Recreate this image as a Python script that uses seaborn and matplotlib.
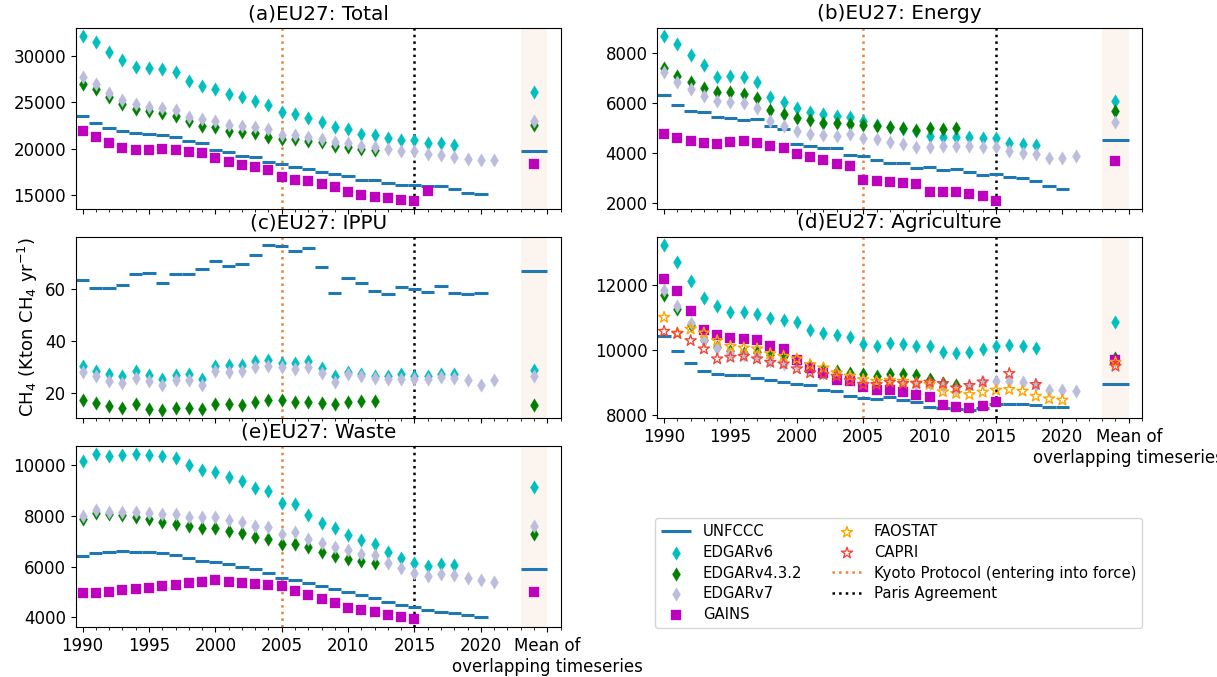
import matplotlib
matplotlib.use("Agg")
import numpy as np
import matplotlib.pyplot as plt
import seaborn as sns
from matplotlib.ticker import MultipleLocator

sns.set_theme(style="ticks", rc={
    "axes.linewidth": 0.8,
    "axes.edgecolor": "black",
    "xtick.major.size": 3.5,
    "ytick.major.size": 3.5,
    "xtick.minor.size": 2,
    "xtick.major.width": 0.8,
    "ytick.major.width": 0.8,
    "xtick.minor.width": 0.6,
    "xtick.labelsize": 12,
    "ytick.labelsize": 12,
    "axes.titlesize": 14.4,
    "axes.labelsize": 13,
    "legend.fontsize": 10.7,
    "xtick.color": "black",
    "ytick.color": "black",
    "text.color": "black",
    "axes.labelcolor": "black",
})
plt.rcParams["font.family"] = ["DejaVu Sans"]

# ---------------- data (kton CH4 / yr) ----------------
yrs_unfccc = np.arange(1990, 2021)
yrs_edgar6 = np.arange(1990, 2019)
yrs_edgar432 = np.arange(1990, 2013)
yrs_edgar7 = np.arange(1990, 2022)
yrs_gains = np.arange(1990, 2016)
yrs_gains_total = np.arange(1990, 2017)
yrs_faostat = np.arange(1990, 2021)
yrs_capri = [1990, 1991, 1992, 1993, 1994, 1995, 1996, 1997, 1998, 1999, 2000,
             2001, 2002, 2003, 2004, 2005, 2006, 2007, 2008, 2009, 2010, 2011,
             2012, 2013, 2014, 2016, 2018]

tick_labels = ["1990", "1995", "2000", "2005", "2010", "2015", "2020",
               "Mean of\noverlapping timeseries"]

# (a) Total
total_unfccc = [23570, 22750, 22250, 21960, 21710, 21610, 21460, 21320, 20890, 20610,
                19930, 19640, 19290, 19180, 18570, 18390, 18040, 17860, 17500, 17250,
                17040, 16680, 16610, 16360, 16070, 16140, 15960, 16000, 15680, 15290, 15180]
total_edgar6 = [32140, 31500, 30430, 29530, 28860, 28750, 28570, 28290, 27250, 26790,
                26430, 25890, 25540, 25110, 24750, 23930, 23750, 23290, 22860, 22390,
                22140, 21610, 21500, 21180, 20960, 20960, 20610, 20610, 20430]
total_edgar432 = [26960, 26430, 25540, 24820, 24290, 24110, 23820, 23570, 22960, 22500,
                  22320, 21960, 21860, 21680, 21320, 21070, 21070, 20890, 20710, 20360,
                  20180, 20000, 19890]
total_edgar7 = [27680, 26960, 26000, 25290, 24820, 24530, 24390, 24210, 23390, 23210,
                22960, 22610, 22500, 22320, 22140, 21500, 21540, 21320, 21070, 20710,
                20610, 20360, 20250, 20000, 19820, 19750, 19460, 19390, 19180, 18930,
                18820, 18820]
total_gains = [21890, 21320, 20640, 20070, 19890, 19890, 20000, 19930, 19710, 19570,
               19000, 18570, 18320, 18040, 17680, 16960, 16710, 16540, 16250, 15890,
               15360, 15070, 14820, 14710, 14540, 14390, 15430]
total_means = {"UNFCCC": 19750, "EDGARv6": 26140, "EDGARv4.3.2": 22610,
               "EDGARv7": 23040, "GAINS": 18390}

# (b) Energy
energy_unfccc = [6330, 5920, 5690, 5630, 5430, 5390, 5320, 5360, 5060, 4970, 4370, 4280,
                 4200, 4200, 3940, 3900, 3740, 3610, 3610, 3420, 3450, 3320, 3350, 3250,
                 3120, 3150, 3030, 3020, 2900, 2700, 2590]
energy_edgar6 = [8660, 8330, 7910, 7500, 7040, 7080, 7040, 6840, 6220, 6020, 5790, 5650,
                 5540, 5460, 5430, 5260, 5100, 5030, 4940, 4860, 4700, 4660, 4660, 4640,
                 4600, 4600, 4400, 4370, 4310]
energy_edgar432 = [7370, 7080, 6840, 6590, 6420, 6420, 6350, 6190, 5720, 5540, 5390, 5300,
                   5190, 5190, 5170, 5100, 5070, 5030, 4990, 4900, 4990, 4970, 5010]
energy_edgar7 = [7210, 6840, 6550, 6290, 6090, 6050, 5980, 5800, 5270, 5060, 4860, 4770,
                 4730, 4700, 4740, 4610, 4570, 4440, 4370, 4240, 4240, 4270, 4280, 4280,
                 4240, 4240, 4070, 4000, 3950, 3820, 3820, 3870]
energy_gains = [4770, 4600, 4480, 4410, 4350, 4440, 4470, 4400, 4280, 4220, 3950, 3850,
                3710, 3580, 3480, 2920, 2900, 2860, 2820, 2770, 2460, 2460, 2440, 2360,
                2290, 2090]
energy_means = {"UNFCCC": 4530, "EDGARv6": 6090, "EDGARv4.3.2": 5690,
                "EDGARv7": 5230, "GAINS": 3680}

# (c) IPPU
ippu_unfccc = [63.8, 60.6, 60.4, 61.7, 66.1, 66.5, 62.5, 65.9, 65.9, 67.9, 70.8, 69.0,
               69.9, 73.3, 77.1, 76.6, 74.9, 76.1, 68.7, 58.7, 64.3, 62.3, 59.5, 58.2,
               60.9, 60.0, 59.2, 61.2, 58.7, 58.2, 58.5]
ippu_edgar6 = [30.7, 28.5, 27.5, 26.6, 28.8, 26.9, 25.6, 26.9, 27.5, 25.7, 30.7, 30.8,
               30.8, 32.4, 32.7, 31.7, 31.7, 32.6, 29.8, 26.6, 28.2, 27.3, 26.6, 26.6,
               27.5, 26.6, 26.6, 27.6, 27.6]
ippu_edgar432 = [17.5, 16.2, 15.2, 14.3, 15.8, 13.9, 13.6, 14.5, 14.5, 13.9, 15.8, 15.8,
                 15.4, 16.7, 17.5, 17.3, 16.7, 16.8, 16.4, 15.8, 16.7, 17.1, 17.1]
ippu_edgar7 = [28.2, 26.6, 24.7, 24.1, 26.0, 24.7, 23.4, 25.0, 25.0, 23.4, 28.5, 28.2,
               28.5, 30.1, 30.4, 30.1, 29.4, 30.1, 27.9, 24.3, 27.5, 26.6, 26.0, 25.6,
               25.6, 25.6, 25.6, 26.4, 26.0, 25.0, 23.4, 25.1]
ippu_means = {"UNFCCC": 67.0, "EDGARv6": 28.9, "EDGARv4.3.2": 15.5, "EDGARv7": 26.6}

# (d) Agriculture
agri_unfccc = [10440, 9980, 9600, 9350, 9265, 9225, 9245, 9140, 9090, 9020, 8970, 8910,
               8785, 8735, 8580, 8510, 8480, 8550, 8450, 8410, 8245, 8205, 8175, 8155,
               8205, 8355, 8355, 8355, 8325, 8245, 8245]
agri_edgar6 = [13220, 12690, 12120, 11590, 11335, 11150, 11150, 11100, 10980, 10930,
               10850, 10600, 10520, 10450, 10400, 10180, 10130, 10210, 10190, 10130,
               10110, 9930, 9910, 9930, 10030, 10110, 10160, 10130, 10060]
agri_edgar432 = [11690, 11250, 10770, 10315, 10090, 9980, 9910, 9930, 9830, 9805, 9650,
                 9500, 9420, 9345, 9295, 9265, 9215, 9265, 9275, 9225, 9120, 8990, 8920]
agri_edgar7 = [11845, 11335, 10825, 10315, 10060, 9905, 9855, 9805, 9675, 9580, 9570,
               9400, 9295, 9225, 9140, 9040, 8990, 9040, 8990, 8970, 8970, 8890, 8815,
               8890, 9010, 9040, 9040, 9010, 8920, 8785, 8785, 8735]
agri_gains = [12180, 11795, 11180, 10620, 10470, 10365, 10335, 10295, 10110, 10030, 9700,
              9450, 9295, 9090, 9040, 8865, 8765, 8785, 8705, 8610, 8550, 8325, 8255,
              8205, 8275, 8400]
agri_faostat = [11000, 10520, 10640, 10520, 10285, 10110, 10060, 10030, 9885, 9805, 9725,
                9550, 9450, 9295, 9195, 9090, 9040, 9070, 9040, 8990, 8940, 8715, 8665,
                8630, 8705, 8765, 8785, 8735, 8580, 8500, 8460]
agri_capri = [10570, 10500, 10285, 10030, 9725, 9775, 9805, 9725, 9620, 9570, 9420, 9295,
              9245, 9195, 9060, 8940, 8940, 9010, 8970, 8970, 9010, 8970, 8835, 8910,
              9020, 9275, 8940]
agri_means = {"UNFCCC": 8940, "EDGARv6": 10855, "EDGARv4.3.2": 9755, "EDGARv7": 9650,
              "GAINS": 9700, "FAOSTAT": 9620, "CAPRI": 9500}

# (e) Waste
waste_unfccc = [6425, 6530, 6595, 6620, 6595, 6580, 6530, 6450, 6330, 6225, 6190, 6120,
                6005, 5900, 5740, 5570, 5465, 5350, 5220, 5140, 5010, 4880, 4760, 4615,
                4485, 4395, 4290, 4225, 4170, 4090, 4025]
waste_edgar6 = [10155, 10445, 10380, 10395, 10445, 10420, 10355, 10290, 10000, 9830, 9725,
                9540, 9370, 9110, 8980, 8520, 8455, 8035, 7705, 7535, 7235, 7050, 6880,
                6580, 6360, 6135, 6030, 6095, 6070]
waste_edgar432 = [7865, 8125, 8060, 8035, 7955, 7865, 7775, 7695, 7605, 7535, 7535, 7405,
                  7340, 7185, 7080, 6880, 6880, 6775, 6580, 6425, 6320, 6225, 6160]
waste_edgar7 = [7995, 8230, 8165, 8165, 8165, 8100, 8060, 8060, 7955, 7955, 7955, 7840,
                7760, 7605, 7575, 7275, 7380, 7105, 6920, 6790, 6660, 6515, 6450, 6160,
                5940, 5740, 5640, 5705, 5675, 5570, 5465, 5415]
waste_gains = [4955, 4980, 5020, 5075, 5115, 5155, 5220, 5285, 5350, 5400, 5480, 5415,
               5375, 5310, 5270, 5220, 5050, 4890, 4720, 4550, 4365, 4290, 4195, 4105,
               4025, 3935]
waste_means = {"UNFCCC": 5925, "EDGARv6": 9135, "EDGARv4.3.2": 7275,
               "EDGARv7": 7605, "GAINS": 5020}

# marker styles per dataset (explicit hex, seaborn remaps the single-letter codes)
STYLE = {
    "EDGARv6": dict(marker="d", color="#00bfbf", s=48),
    "EDGARv4.3.2": dict(marker="d", color="#008000", s=48),
    "EDGARv7": dict(marker="d", color="#bcbddc", s=48),
    "GAINS": dict(marker="s", color="#bf00bf", s=48),
    "FAOSTAT": dict(marker="*", color="orange", s=70),
    "CAPRI": dict(marker="*", color="#f0483a", s=70),
}
MEAN_X = 2024


def draw_panel(ax, title, unfccc, means, series, show_xlabels=False):
    """
    One sector panel: UNFCCC bars, other inventories as markers, means at the right.
    """
    ax.axvspan(2023, 2025, color="#fcf5ef", zorder=0, lw=0)
    ax.axvline(2005, color="#e8833a", ls=":", lw=1.8, zorder=1,
               label="Kyoto Protocol (entering into force)")
    ax.axvline(2015, color="black", ls=":", lw=1.8, zorder=1, label="Paris Agreement")

    yrs = np.asarray(yrs_unfccc)
    ax.hlines(unfccc, yrs - 0.5, yrs + 0.5, color="#1f77b4", lw=2.2, zorder=2,
              label="UNFCCC")
    ax.hlines(means["UNFCCC"], 2023, 2025, color="#1f77b4", lw=2.2, zorder=2)

    for i, (name, years, values) in enumerate(series):
        st = STYLE[name]
        xs = list(years) + [MEAN_X]
        ys = list(values) + [means[name]]
        sns.scatterplot(x=xs, y=ys, marker=st["marker"], color=st["color"], s=st["s"],
                        edgecolor=st["color"], linewidth=0.2, ax=ax, label=name,
                        zorder=3 + i, legend=False)
        if st["marker"] == "*":
            coll = ax.collections[-1]
            coll.set_facecolor("none")
            coll.set_edgecolor(st["color"])
            coll.set_linewidth(1.0)

    ax.set_xlim(1989.5, 2026)
    ax.set_xticks(range(1990, 2026, 5))
    ax.xaxis.set_minor_locator(MultipleLocator(1))
    if show_xlabels:
        ax.set_xticklabels(tick_labels)
    else:
        ax.tick_params(axis="x", labelbottom=False)
    ax.set_title(title)


fig = plt.figure(figsize=(12.17, 6.77), dpi=100)
gs = fig.add_gridspec(3, 2, left=0.0624, right=0.9384, top=0.959, bottom=0.0734,
                      wspace=0.2, hspace=0.151)
ax_a = fig.add_subplot(gs[0, 0])
ax_b = fig.add_subplot(gs[0, 1])
ax_c = fig.add_subplot(gs[1, 0])
ax_d = fig.add_subplot(gs[1, 1])
ax_e = fig.add_subplot(gs[2, 0])

draw_panel(ax_a, "(a)EU27: Total", total_unfccc, total_means, [
    ("EDGARv6", yrs_edgar6, total_edgar6),
    ("EDGARv4.3.2", yrs_edgar432, total_edgar432),
    ("EDGARv7", yrs_edgar7, total_edgar7),
    ("GAINS", yrs_gains_total, total_gains),
])
draw_panel(ax_b, "(b)EU27: Energy", energy_unfccc, energy_means, [
    ("EDGARv6", yrs_edgar6, energy_edgar6),
    ("EDGARv4.3.2", yrs_edgar432, energy_edgar432),
    ("EDGARv7", yrs_edgar7, energy_edgar7),
    ("GAINS", yrs_gains, energy_gains),
])
draw_panel(ax_c, "(c)EU27: IPPU", ippu_unfccc, ippu_means, [
    ("EDGARv6", yrs_edgar6, ippu_edgar6),
    ("EDGARv4.3.2", yrs_edgar432, ippu_edgar432),
    ("EDGARv7", yrs_edgar7, ippu_edgar7),
])
ax_c.set_yticks([20, 40, 60])
draw_panel(ax_d, "(d)EU27: Agriculture", agri_unfccc, agri_means, [
    ("EDGARv6", yrs_edgar6, agri_edgar6),
    ("EDGARv4.3.2", yrs_edgar432, agri_edgar432),
    ("EDGARv7", yrs_edgar7, agri_edgar7),
    ("GAINS", yrs_gains, agri_gains),
    ("FAOSTAT", yrs_faostat, agri_faostat),
    ("CAPRI", yrs_capri, agri_capri),
], show_xlabels=True)
draw_panel(ax_e, "(e)EU27: Waste", waste_unfccc, waste_means, [
    ("EDGARv6", yrs_edgar6, waste_edgar6),
    ("EDGARv4.3.2", yrs_edgar432, waste_edgar432),
    ("EDGARv7", yrs_edgar7, waste_edgar7),
    ("GAINS", yrs_gains, waste_gains),
], show_xlabels=True)

ax_c.set_ylabel("CH$_4$ (Kton CH$_4$ yr$^{-1}$)")

handles, labels = ax_d.get_legend_handles_labels()
order = ["UNFCCC", "EDGARv6", "EDGARv4.3.2", "EDGARv7", "GAINS", "FAOSTAT", "CAPRI",
         "Kyoto Protocol (entering into force)", "Paris Agreement"]
lookup = dict(zip(labels, handles))
fig.legend([lookup[k] for k in order], order, ncol=2, loc="lower right",
           bbox_to_anchor=(0.9384, 0.0727), borderaxespad=0, labelspacing=0.38,
           frameon=True)

fig.savefig("out.png", dpi=100)
